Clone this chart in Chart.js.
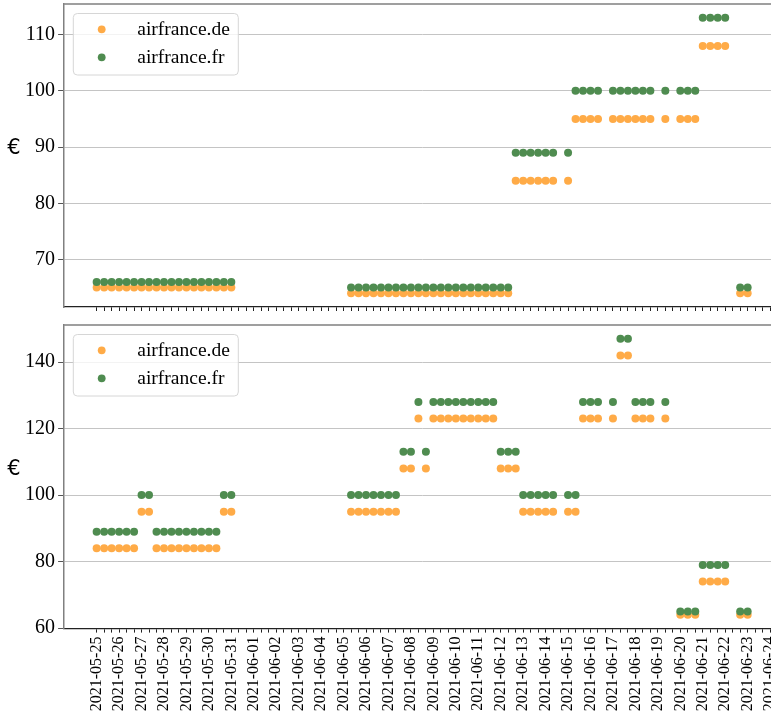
<!DOCTYPE html>
<html><head><meta charset="utf-8">
<script src="https://cdn.jsdelivr.net/npm/chart.js@4/dist/chart.umd.min.js"></script>
<style>
html,body{margin:0;padding:0;background:#fff;overflow:hidden;width:771px;height:712px;}
#wrap{position:relative;width:790px;height:712px;}
.box{position:absolute;left:0;width:790px;}
#b1{top:0;height:316px;}
#b2{top:316px;height:396px;}
</style></head>
<body><div id="wrap"><div class="box" id="b1"><canvas id="c1"></canvas></div><div class="box" id="b2"><canvas id="c2"></canvas></div></div>
<script>
// Dates (one label per day); samples every 8 hours (3 slots per day)
const dateLabels = ['2021-05-25','2021-05-26','2021-05-27','2021-05-28','2021-05-29','2021-05-30','2021-05-31',
  '2021-06-01','2021-06-02','2021-06-03','2021-06-04','2021-06-05','2021-06-06','2021-06-07','2021-06-08',
  '2021-06-09','2021-06-10','2021-06-11','2021-06-12','2021-06-13','2021-06-14','2021-06-15','2021-06-16',
  '2021-06-17','2021-06-18','2021-06-19','2021-06-20','2021-06-21','2021-06-22','2021-06-23','2021-06-24'];
const slotsPerDay = 3;
const seriesNames = ['airfrance.de','airfrance.fr'];
const seriesColors = ['#ffab47','#4f8c50'];

// Top panel values, one row per day (00h, 08h, 16h)
const topDe = [
 65,65,65, 65,65,65, 65,65,65, 65,65,65, 65,65,65, 65,65,65, 65,null,null,
 null,null,null, null,null,null, null,null,null, null,null,null,
 null,64,64, 64,64,64, 64,64,64, 64,64,64, 64,64,64, 64,64,64, 64,64,64,
 64,64,84, 84,84,84, 84,84,null, 84,95,95, 95,95,null, 95,95,95, 95,95,95,
 null,95,null, 95,95,95, 108,108,108, 108,null,64, 64];
const topFr = [
 66,66,66, 66,66,66, 66,66,66, 66,66,66, 66,66,66, 66,66,66, 66,null,null,
 null,null,null, null,null,null, null,null,null, null,null,null,
 null,65,65, 65,65,65, 65,65,65, 65,65,65, 65,65,65, 65,65,65, 65,65,65,
 65,65,89, 89,89,89, 89,89,null, 89,100,100, 100,100,null, 100,100,100, 100,100,100,
 null,100,null, 100,100,100, 113,113,113, 113,null,65, 65];
// Bottom panel values
const botDe = [
 84,84,84, 84,84,84, 95,95,84, 84,84,84, 84,84,84, 84,84,95, 95,null,null,
 null,null,null, null,null,null, null,null,null, null,null,null,
 null,95,95, 95,95,95, 95,95,108, 108,123,108, 123,123,123, 123,123,123, 123,123,123,
 108,108,108, 95,95,95, 95,95,null, 95,95,123, 123,123,null, 123,142,142, 123,123,123,
 null,123,null, 64,64,64, 74,74,74, 74,null,64, 64];
const botFr = [
 89,89,89, 89,89,89, 100,100,89, 89,89,89, 89,89,89, 89,89,100, 100,null,null,
 null,null,null, null,null,null, null,null,null, null,null,null,
 null,100,100, 100,100,100, 100,100,113, 113,128,113, 128,128,128, 128,128,128, 128,128,128,
 113,113,113, 100,100,100, 100,100,null, 100,100,128, 128,128,null, 128,147,147, 128,128,128,
 null,128,null, 65,65,65, 79,79,79, 79,null,65, 65];

const topYTicks = [70,80,90,100,110];
const botYTicks = [60,80,100,120,140];
const topYRange = [61.55,115.45];
const botYRange = [59.85,151.15];
const xRange = [-1.45,30.45];

function toPoints(arr){
  const pts=[];
  arr.forEach((v,i)=>{ if(v!==null) pts.push({x:i/slotsPerDay,y:v}); });
  return pts;
}
const xTickVals=[];
for(let k=0;k<=30*slotsPerDay+1;k++) xTickVals.push(k/slotsPerDay);

const serif='Liberation Serif';

const framePlugin={
  id:'frame',
  afterDraw(chart){
    const {ctx,chartArea:a}=chart;
    ctx.save();
    ctx.strokeStyle='#808080';ctx.lineWidth=1.5;
    ctx.beginPath();ctx.moveTo(a.left,a.top);ctx.lineTo(a.right,a.top);ctx.lineTo(a.right,a.bottom);ctx.stroke();
    // y-axis label
    ctx.fillStyle='#000';ctx.font='21px "DejaVu Sans"';ctx.textAlign='center';ctx.textBaseline='alphabetic';
    ctx.fillText('€',14,(a.top+a.bottom)/2-1.5);
    // legend
    const lx=a.left+9.2, ly=a.top+9.5, lw=165, lh=61.5, r=4;
    ctx.fillStyle='rgba(255,255,255,0.8)';ctx.strokeStyle='#d6d6d6';ctx.lineWidth=1;
    ctx.beginPath();
    ctx.moveTo(lx+r,ly);ctx.lineTo(lx+lw-r,ly);ctx.quadraticCurveTo(lx+lw,ly,lx+lw,ly+r);
    ctx.lineTo(lx+lw,ly+lh-r);ctx.quadraticCurveTo(lx+lw,ly+lh,lx+lw-r,ly+lh);
    ctx.lineTo(lx+r,ly+lh);ctx.quadraticCurveTo(lx,ly+lh,lx,ly+lh-r);
    ctx.lineTo(lx,ly+r);ctx.quadraticCurveTo(lx,ly,lx+r,ly);ctx.closePath();
    ctx.fill();ctx.stroke();
    ctx.font='19.5px "'+serif+'"';ctx.textAlign='left';ctx.textBaseline='middle';
    seriesNames.forEach((n,i)=>{
      const y=a.top+25.3+i*28;
      ctx.fillStyle=seriesColors[i];
      ctx.beginPath();ctx.arc(a.left+37.6,y,3.9,0,Math.PI*2);ctx.fill();
      ctx.fillStyle='#000';
      ctx.fillText(n,a.left+73.2,y+1);
    });
    ctx.restore();
  }
};

function makeChart(id,de,fr,yTicks,yRange,showLabels,padTop,xHeight){
  return new Chart(document.getElementById(id),{
    type:'scatter',
    data:{datasets:[
      {label:seriesNames[0],data:toPoints(de),backgroundColor:seriesColors[0],borderWidth:0,pointRadius:4,order:1},
      {label:seriesNames[1],data:toPoints(fr),backgroundColor:seriesColors[1],borderWidth:0,pointRadius:4,order:0}
    ]},
    options:{
      responsive:true,maintainAspectRatio:false,animation:false,devicePixelRatio:1,
      layout:{padding:{top:padTop,right:9.8,left:0,bottom:0}},
      plugins:{legend:{display:false},tooltip:{enabled:false}},
      scales:{
        x:{type:'linear',min:xRange[0],max:xRange[1],
          afterBuildTicks:s=>{s.ticks=xTickVals.map(v=>({value:v}));},
          afterFit:s=>{s.height=xHeight;s.paddingLeft=0;s.paddingRight=0;},
          ticks:{autoSkip:false,maxRotation:90,minRotation:90,padding:4,color:'#000',
            font:{family:serif,size:16},
            callback:(v)=>{ if(!showLabels) return ''; const k=Math.round(v*slotsPerDay); return k%slotsPerDay===0?(dateLabels[k/slotsPerDay]||''):''; }},
          grid:{drawOnChartArea:false,drawTicks:true,tickLength:4,tickColor:'#222',tickWidth:1},
          border:{color:'#222',width:1.3}
        },
        y:{min:yRange[0],max:yRange[1],
          afterBuildTicks:s=>{s.ticks=yTicks.map(v=>({value:v}));},
          afterFit:s=>{s.width=64.1;s.paddingTop=0;s.paddingBottom=0;},
          ticks:{color:'#000',padding:3,font:{family:serif,size:20}},
          grid:{color:'#c4c4c4',lineWidth:1,tickColor:'#555',tickLength:6,drawTicks:true},
          border:{color:'#808080',width:1.5}
        }
      }
    },
    plugins:[framePlugin]
  });
}
makeChart('c1',topDe,topFr,topYTicks,topYRange,false,4,9);
makeChart('c2',botDe,botFr,botYTicks,botYRange,true,9,83.4);
</script>
</body></html>
